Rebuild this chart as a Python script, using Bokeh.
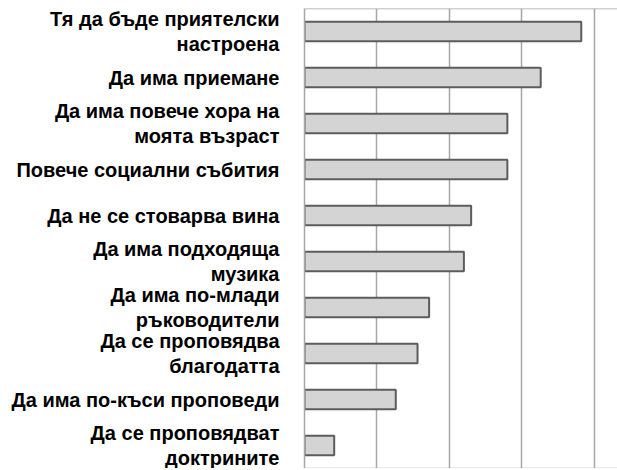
from bokeh.plotting import figure
from bokeh.models import ColumnDataSource, FactorRange, Range1d, FixedTicker, Span
from bokeh.embed import file_html
from bokeh.resources import INLINE

categories = [
    "Тя да бъде приятелски\nнастроена",
    "Да има приемане",
    "Да има повече хора на\nмоята възраст",
    "Повече социални събития",
    "Да не се стоварва вина",
    "Да има подходяща\nмузика",
    "Да има по-млади\nръководители",
    "Да се проповядва\nблагодатта",
    "Да има по-къси проповеди",
    "Да се проповядват\nдоктрините",
]
values = [38.2, 32.6, 28.0, 28.0, 23.0, 22.0, 17.2, 15.6, 12.6, 4.1]
grid_ticks = [0, 10, 20, 30, 40]

src = ColumnDataSource(data=dict(cat=categories, val=values))

p = figure(
    width=617, height=468,
    y_range=FactorRange(factors=list(reversed(categories)), range_padding=0),
    x_range=Range1d(0, 43.2),
    output_backend="svg", toolbar_location=None,
    min_border_left=304, min_border_right=0, min_border_top=8, min_border_bottom=0,
)
p.outline_line_color = None
p.background_fill_color = "white"
p.border_fill_color = "white"

p.xaxis.visible = False
p.ygrid.grid_line_color = None
p.xgrid.ticker = FixedTicker(ticks=grid_ticks)
p.xgrid.grid_line_color = "#a6a6a6"
p.xgrid.grid_line_width = 1.5

yax = p.yaxis[0]
yax.axis_line_color = "#a6a6a6"
yax.axis_line_width = 1.5
yax.major_tick_line_color = None
yax.minor_tick_line_color = None
yax.major_label_standoff = 19
yax.major_label_text_font = "Liberation Sans"
yax.major_label_text_font_style = "bold"
yax.major_label_text_font_size = "20px"
yax.major_label_text_color = "#000000"
yax.major_label_text_line_height = 1.1

for loc in (0, 10):
    p.add_layout(Span(location=loc, dimension="width", line_color="#a6a6a6", line_width=1.5))

p.hbar(y="cat", right="val", left=0, height=0.42, source=src,
       fill_color="#d4d4d4", line_color="#5c5c5c", line_width=2)

open("out.html", "w").write(file_html(p, INLINE))
